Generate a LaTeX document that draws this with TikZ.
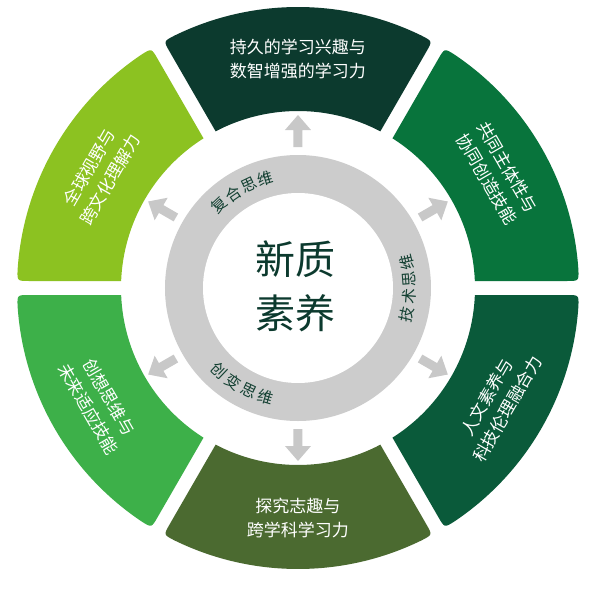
\documentclass[tikz,border=0pt]{standalone}
\usepackage{fontspec}
\newfontfamily\cjk{Noto Sans CJK SC}
\definecolor{cTop}{HTML}{0C3A2E}
\definecolor{cUR}{HTML}{08743C}
\definecolor{cLR}{HTML}{0A5A3A}
\definecolor{cBot}{HTML}{4B6A30}
\definecolor{cLL}{HTML}{3DB049}
\definecolor{cUL}{HTML}{8CC221}
\definecolor{ringgray}{HTML}{CCCCCC}
\definecolor{arrowgray}{HTML}{C8C8C8}
\definecolor{ringtext}{HTML}{123F31}
\newcommand\segshape[2]{%
  \begin{scope}[rotate=#1]
    \fill[#2] ([rotate=-30]176.86,7) -- ([rotate=-30]268.91,7)
      .. controls ([rotate=-30]280.91,7) .. (-26.13:281)
      arc[start angle=-26.13, end angle=26.13, radius=281]
      .. controls ([rotate=30]280.91,-7) .. ([rotate=30]268.91,-7)
      -- ([rotate=30]176.86,-7)
      arc[start angle=27.73, end angle=-27.73, radius=177] -- cycle;
    \fill[arrowgray] (141,-4.5) -- (158,-4.5) -- (158,-13) -- (173,0)
      -- (158,13) -- (158,4.5) -- (141,4.5) -- cycle;
  \end{scope}}
\tikzset{
  segtext/.style={text=white, font=\cjk\fontsize{17}{24}\selectfont, align=center, inner sep=0pt},
  ringchar/.style={text=ringtext, font=\cjk\fontsize{15.5}{15.5}\selectfont, inner sep=0pt},
  centertext/.style={text=cTop, font=\cjk\fontsize{40}{54}\selectfont, align=center, inner sep=0pt}
}
\begin{document}
\begin{tikzpicture}[x=1pt,y=1pt]
\useasboundingbox[fill=white] (-298,-302) rectangle (297,288);
\segshape{90}{cTop}
\segshape{30}{cUR}
\segshape{-30}{cLR}
\segshape{-90}{cBot}
\segshape{210}{cLL}
\segshape{150}{cUL}
% ring
\fill[ringgray] (0,0) circle[radius=133];
\fill[white] (0,0) circle[radius=95];
% segment texts
\node[segtext] (t90) at (90:229) {持久的学习兴趣与\\数智增强的学习力};
\node[segtext, rotate=-60] (t30) at (30:230) {共同主体性与\\协同创造技能};
\node[segtext, rotate=60] (tm30) at (-30:230) {人文素养与\\科技伦理融合力};
\node[segtext] (tm90) at (-90:230) {探究志趣与\\跨学科学习力};
\node[segtext, rotate=-60] (t210) at (210:230) {创想思维与\\未来适应技能};
\node[segtext, rotate=60] (t150) at (150:229) {全球视野与\\跨文化理解力};
% ring texts
\node[ringchar, rotate=43.5] (a1) at (133.5:114) {复};
\node[ringchar, rotate=34.5] (a2) at (124.5:114) {合};
\node[ringchar, rotate=25.5] (a3) at (115.5:114) {思};
\node[ringchar, rotate=16.5] (a4) at (106.5:114) {维};
\node[ringchar, rotate=76.5] (b1) at (-13.5:112) {技};
\node[ringchar, rotate=85.5] (b2) at (-4.5:112) {术};
\node[ringchar, rotate=94.5] (b3) at (4.5:112) {思};
\node[ringchar, rotate=103.5] (b4) at (13.5:112) {维};
\node[ringchar, rotate=316.5] (c1) at (226.5:114) {创};
\node[ringchar, rotate=325.5] (c2) at (235.5:114) {变};
\node[ringchar, rotate=334.5] (c3) at (244.5:114) {思};
\node[ringchar, rotate=343.5] (c4) at (253.5:114) {维};
% center
\node[centertext] (ctr) at (-2,2) {新质\\素养};
\end{tikzpicture}
\end{document}
